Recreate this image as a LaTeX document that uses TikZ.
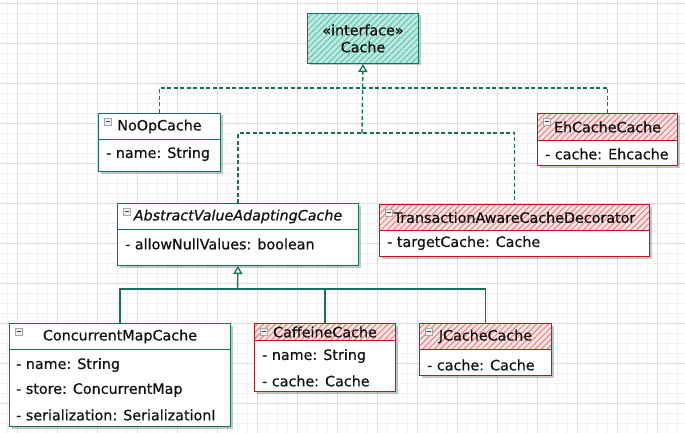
\documentclass[tikz,border=0pt]{standalone}
\usepackage{fontspec}
\setmainfont{DejaVu Sans}[FakeBold=0.6]
\usetikzlibrary{arrows.meta,patterns.meta,shadows}
\definecolor{tealc}{HTML}{16705E}
\definecolor{tealfill}{HTML}{BFE8E0}
\definecolor{tealhatch}{HTML}{5CC6B0}
\definecolor{redc}{HTML}{C0141E}
\definecolor{redfill}{HTML}{FCE6E6}
\definecolor{redhatch}{HTML}{F07C7C}
\definecolor{gridmaj}{HTML}{DDDDDD}
\definecolor{gridmin}{HTML}{F1F1F1}
\definecolor{txt}{HTML}{111111}
\tikzset{
  x=1pt, y=-1pt,
  txtfont/.style={font=\fontsize{14.3}{17}\selectfont, text=txt},
  clsbox/.style={draw, line width=1pt, fill=white, anchor=north west, inner sep=0pt,
    drop shadow={shadow xshift=2pt, shadow yshift=-2pt, opacity=0.22, fill=black}},
  hdrteal/.style={draw=tealc, line width=1pt, anchor=north west, inner sep=0pt, txtfont},
  hdrred/.style={draw=redc, line width=1pt, anchor=north west, inner sep=0pt, txtfont,
    preaction={fill=redfill},
    pattern={Lines[angle=45, distance=4.2pt, line width=1pt]}, pattern color=redhatch},
  attr/.style={anchor=west, inner sep=0pt, txtfont},
  dep/.style={draw=tealc, line width=1.4pt, dash pattern=on 4pt off 2.5pt},
  inh/.style={draw=tealc, line width=1.4pt},
  tip/.style={-{Triangle[open, length=8pt, width=9pt, line width=1.3pt]}},
  iconbox/.style={draw=gray!70, fill=gray!12, line width=0.6pt},
  iconbar/.style={draw=black!75, line width=0.8pt}
}
\newcommand\collapseicon[1]{%
  \draw[iconbox] (#1) ++(6,5) rectangle ++(7,7);
  \draw[iconbar] (#1) ++(7.5,8.5) -- ++(4,0);}
\begin{document}
\begin{tikzpicture}
\useasboundingbox (0,0) rectangle (685,433);
\fill[white] (0,0) rectangle (685,433);
% grid
\foreach \gx in {7,17,...,685} \draw[gridmin, line width=0.5pt] (\gx,0) -- (\gx,433);
\foreach \gy in {3,13,...,433} \draw[gridmin, line width=0.5pt] (0,\gy) -- (685,\gy);
\foreach \gx in {17,57,...,685} \draw[gridmaj, line width=0.7pt] (\gx,0) -- (\gx,433);
\foreach \gy in {3,43,...,433} \draw[gridmaj, line width=0.7pt] (0,\gy) -- (685,\gy);

% interface Cache
\node[clsbox, draw=tealc, minimum width=111pt, minimum height=50pt, align=center, txtfont,
  preaction={fill=tealfill},
  pattern={Lines[angle=45, distance=4.2pt, line width=1pt]}, pattern color=tealhatch]
  (cache) at (307,13) {«interface»\\Cache};

% NoOpCache
\node[clsbox, draw=tealc, minimum width=122pt, minimum height=58pt] (noop) at (98,113) {};
\node[hdrteal, minimum width=122pt, minimum height=26pt] (nooph) at (98,113) {NoOpCache};
\collapseicon{98,113}
\node[attr] (noopa) at (106,154) {- name: String};

% EhCacheCache
\node[clsbox, draw=redc, minimum width=140pt, minimum height=52pt] (eh) at (537,113) {};
\node[hdrred, minimum width=140pt, minimum height=27pt] (ehh) at (537,113) {EhCacheCache};
\collapseicon{537,113}
\node[attr] (eha) at (545,154) {- cache: Ehcache};

% AbstractValueAdaptingCache
\node[clsbox, draw=tealc, minimum width=241pt, minimum height=62pt] (abs) at (117,203) {};
\node[hdrteal, minimum width=241pt, minimum height=26pt, font=\fontsize{14.3}{17}\selectfont\itshape] (absh) at (117,203) {AbstractValueAdaptingCache};
\collapseicon{117,203}
\node[attr] (absa) at (125,244) {- allowNullValues: boolean};

% TransactionAwareCacheDecorator
\node[clsbox, draw=redc, minimum width=270pt, minimum height=52pt] (tad) at (379,204) {};
\node[hdrred, minimum width=270pt, minimum height=26pt] (tadh) at (379,204) {TransactionAwareCacheDecorator};
\collapseicon{379,204}
\node[attr] (tada) at (387,243) {- targetCache: Cache};

% ConcurrentMapCache
\node[clsbox, draw=tealc, minimum width=221pt, minimum height=103pt] (cmc) at (9,323) {};
\node[hdrteal, minimum width=221pt, minimum height=26pt] (cmch) at (9,323) {ConcurrentMapCache};
\collapseicon{9,323}
\node[attr] (cmca) at (16,365) {- name: String};
\node[attr] (cmcb) at (16,390) {- store: ConcurrentMap};
\node[attr] (cmcc) at (16,415) {- serialization: SerializationI};

% CaffeineCache
\node[clsbox, draw=redc, minimum width=141pt, minimum height=68pt] (caf) at (254,323) {};
\node[hdrred, minimum width=141pt, minimum height=17pt] (cafh) at (254,323) {CaffeineCache};
\collapseicon{254,323}
\node[attr] (cafa) at (262,356) {- name: String};
\node[attr] (cafb) at (262,381) {- cache: Cache};

% JCacheCache
\node[clsbox, draw=redc, minimum width=132pt, minimum height=52pt] (jc) at (419,323) {};
\node[hdrred, minimum width=132pt, minimum height=26pt] (jch) at (419,323) {JCacheCache};
\collapseicon{419,323}
\node[attr] (jca) at (427,365) {- cache: Cache};

% realization connectors (dashed)
\coordinate (busB) at (362,133);
\draw[dep] (noop.north) -- ++(0,-25) -| (eh.north);
\draw[dep] (abs.north) |- (busB) -| (tad.north);
\draw[dep, tip] (busB) -- (cache.south);

% inheritance connectors (solid)
\coordinate (busC) at (237.5,289);
\draw[inh] (cmc.north) |- (busC) -| (jc.north);
\draw[inh] (caf.north) -- (caf.north |- busC);
\draw[inh, tip] (busC) -- (abs.south);
\end{tikzpicture}
\end{document}
